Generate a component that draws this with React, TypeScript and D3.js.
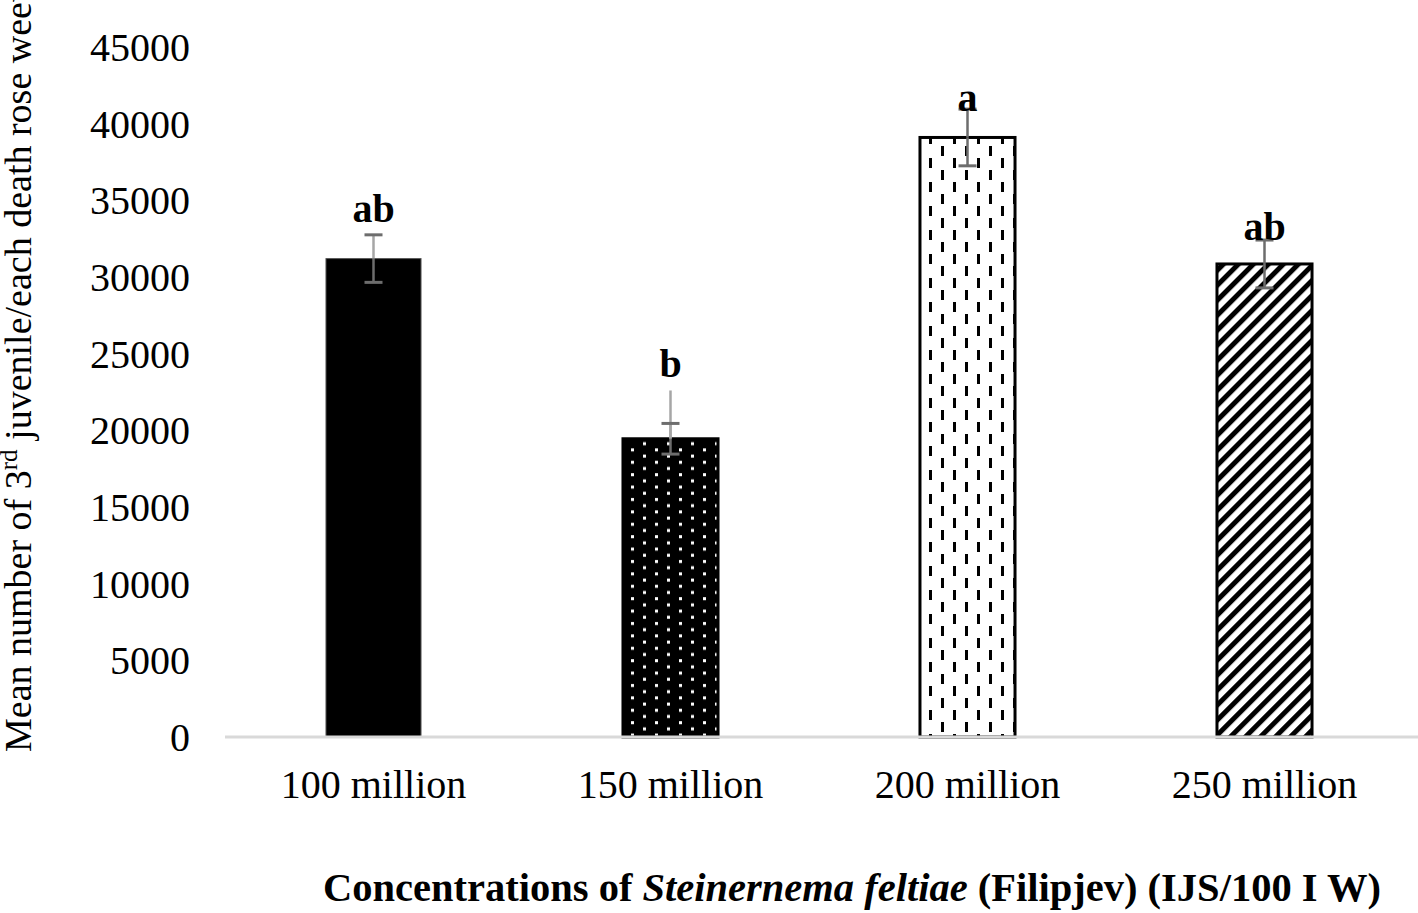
import React, { useEffect, useRef } from 'react';
import * as d3 from 'd3';

// chart values
const categories = ['100 million', '150 million', '200 million', '250 million'];
const means = [31200, 19450, 39100, 30850];
const errors = [1550, 1000, 1850, 1560];
const extraLine = [null, 22600, null, null]; // light whisker that runs above bar 2
const letters = ['ab', 'b', 'a', 'ab'];
const yTicks = [0, 5000, 10000, 15000, 20000, 25000, 30000, 35000, 40000, 45000];
const patterns = ['solid', 'dots', 'dashes', 'stripes'];

const FONT = '"Liberation Serif", "Times New Roman", serif';

function App() {
  const ref = useRef<SVGSVGElement>(null);

  useEffect(() => {
    const svg = d3.select(ref.current);
    svg.selectAll('*').remove();

    const W = 1418;
    const H = 913;

    const x = d3.scaleBand()
      .domain(categories)
      .range([225, 1413])
      .paddingInner(0.68)
      .paddingOuter(0.34);

    const y = d3.scaleLinear()
      .domain([0, 45000])
      .range([737, 47]);

    const defs = svg.append('defs');

    // black with white staggered dots
    const pd = defs.append('pattern')
      .attr('id', 'p-dots')
      .attr('patternUnits', 'userSpaceOnUse')
      .attr('width', 24).attr('height', 12.4);
    pd.append('rect').attr('width', 24).attr('height', 12.4).attr('fill', '#000');
    pd.append('rect').attr('x', 7).attr('y', 2).attr('width', 3).attr('height', 3).attr('fill', '#fff');
    pd.append('rect').attr('x', 19).attr('y', 8.2).attr('width', 3).attr('height', 3).attr('fill', '#fff');

    // white with staggered vertical dashes
    const pv = defs.append('pattern')
      .attr('id', 'p-dashes')
      .attr('patternUnits', 'userSpaceOnUse')
      .attr('width', 24).attr('height', 24);
    pv.append('rect').attr('width', 24).attr('height', 24).attr('fill', '#fff');
    pv.append('rect').attr('x', 5).attr('y', 2).attr('width', 3).attr('height', 10).attr('fill', '#000');
    pv.append('rect').attr('x', 17).attr('y', 14).attr('width', 3).attr('height', 10).attr('fill', '#000');

    // white with diagonal stripes
    const ps = defs.append('pattern')
      .attr('id', 'p-stripes')
      .attr('patternUnits', 'userSpaceOnUse')
      .attr('width', 10.6).attr('height', 10.6)
      .attr('patternTransform', 'rotate(45)');
    ps.append('rect').attr('width', 10.6).attr('height', 10.6).attr('fill', '#fff');
    ps.append('rect').attr('width', 5).attr('height', 10.6).attr('fill', '#000');

    svg.append('rect').attr('width', W).attr('height', H).attr('fill', '#fff');

    // y tick labels (no axis line)
    svg.append('g')
      .selectAll('text')
      .data(yTicks)
      .enter()
      .append('text')
      .attr('x', 190)
      .attr('y', d => y(d))
      .attr('dy', '0.35em')
      .attr('text-anchor', 'end')
      .attr('font-family', FONT)
      .attr('font-size', '40px')
      .attr('fill', '#000')
      .text(d => String(d));

    // bars
    svg.append('g')
      .selectAll('rect')
      .data(means)
      .enter()
      .append('rect')
      .attr('x', (d, i) => x(categories[i]))
      .attr('y', d => y(d))
      .attr('width', x.bandwidth())
      .attr('height', d => y(0) - y(d))
      .attr('fill', (d, i) => patterns[i] === 'solid' ? '#000' : `url(#p-${patterns[i]})`)
      .attr('stroke', (d, i) => patterns[i] === 'solid' ? '#555' : '#000')
      .attr('stroke-width', (d, i) => patterns[i] === 'solid' ? 1 : 3);

    // x axis line
    svg.append('line')
      .attr('x1', 225).attr('x2', 1418)
      .attr('y1', y(0)).attr('y2', y(0))
      .attr('stroke', '#d9d9d9')
      .attr('stroke-width', 3);

    // error bars
    const eg = svg.append('g');
    means.forEach((m, i) => {
      const cx = x(categories[i]) + x.bandwidth() / 2;
      const darkFill = i < 2;
      const top = y(m + errors[i]);
      const bot = y(m - errors[i]);
      if (extraLine[i] != null) {
        eg.append('line')
          .attr('x1', cx).attr('x2', cx)
          .attr('y1', y(extraLine[i])).attr('y2', y(m))
          .attr('stroke', '#a6a6a6').attr('stroke-width', 2.5);
      }
      eg.append('line')
        .attr('x1', cx).attr('x2', cx)
        .attr('y1', top).attr('y2', y(m))
        .attr('stroke', darkFill ? '#a6a6a6' : '#6d6d6d').attr('stroke-width', 2.5);
      eg.append('line')
        .attr('x1', cx).attr('x2', cx)
        .attr('y1', y(m)).attr('y2', bot)
        .attr('stroke', '#6d6d6d').attr('stroke-width', 2.5);
      [top, bot].forEach(yy => {
        eg.append('line')
          .attr('x1', cx - 9).attr('x2', cx + 9)
          .attr('y1', yy).attr('y2', yy)
          .attr('stroke', '#6d6d6d').attr('stroke-width', 3);
      });
    });

    // significance letters
    const letterTops = means.map((m, i) => Math.max(m + errors[i], extraLine[i] ?? 0));
    svg.append('g')
      .selectAll('text')
      .data(letters)
      .enter()
      .append('text')
      .attr('x', (d, i) => x(categories[i]) + x.bandwidth() / 2)
      .attr('y', (d, i) => y(letterTops[i]) - (i === 2 ? -2 : i === 3 ? 0 : 13))
      .attr('text-anchor', 'middle')
      .attr('font-family', FONT)
      .attr('font-weight', 'bold')
      .attr('font-size', '40px')
      .attr('fill', '#000')
      .text(d => d);

    // category labels
    svg.append('g')
      .selectAll('text')
      .data(categories)
      .enter()
      .append('text')
      .attr('x', d => x(d) + x.bandwidth() / 2)
      .attr('y', 798)
      .attr('text-anchor', 'middle')
      .attr('font-family', FONT)
      .attr('font-size', '40px')
      .attr('fill', '#000')
      .text(d => d);

    // y axis title (runs off the top edge, as in the original)
    const yt = svg.append('text')
      .attr('transform', 'translate(31,752) rotate(-90)')
      .attr('text-anchor', 'start')
      .attr('font-family', FONT)
      .attr('font-size', '38px')
      .attr('fill', '#000');
    yt.append('tspan').text('Mean number of 3');
    yt.append('tspan').attr('dy', -14).attr('font-size', '25px').text('rd');
    yt.append('tspan').attr('dy', 14).text(' juvenile/each death rose weevil');

    // x axis title
    const xt = svg.append('text')
      .attr('x', 852)
      .attr('y', 901)
      .attr('text-anchor', 'middle')
      .attr('font-family', FONT)
      .attr('font-weight', 'bold')
      .attr('font-size', '40.5px')
      .attr('fill', '#000');
    xt.append('tspan').text('Concentrations of ');
    xt.append('tspan').attr('font-style', 'italic').text('Steinernema feltiae');
    xt.append('tspan').text(' (Filipjev) (IJS/100 I W)');
  }, []);

  return (
    <svg ref={ref} width={1418} height={913}
      style={{ display: 'block', position: 'absolute', left: 0, top: 0 }} />
  );
}

export default App;
